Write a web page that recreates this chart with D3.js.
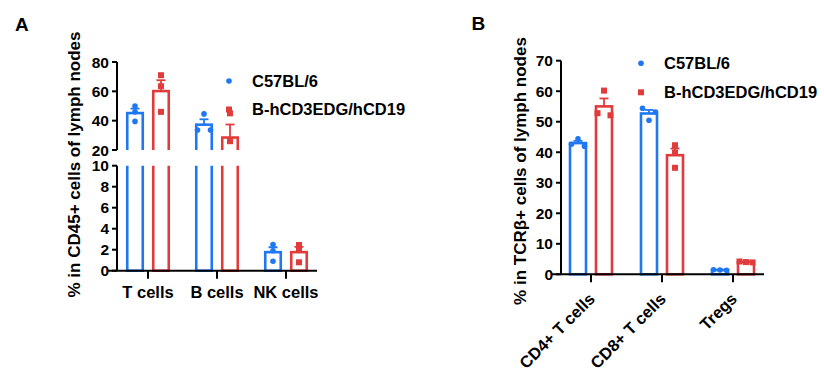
<!DOCTYPE html>
<html><head><meta charset="utf-8">
<script src="https://cdn.jsdelivr.net/npm/d3@7"></script>
<style>
body{margin:0;background:#fff;}
text{font-family:"Liberation Sans",Arial,sans-serif;font-weight:bold;fill:#000;}
</style></head>
<body><svg id="c" width="824" height="387"></svg>
<script>
// ---------- data ----------
const groups = ["C57BL/6", "B-hCD3EDG/hCD19"];
const catsA = ["T cells", "B cells", "NK cells"];
const c57A = [[50, 46, 39.5], [44.6, 33.6, 33.6], [2.5, 1.9, 0.9]];
const hcdA = [[71, 63.5, 46], [45, 26, 14.5], [2.45, 2.05, 0.8]];
const ticksATop = [20, 40, 60, 80];
const ticksABot = [0, 2, 4, 6, 8, 10];
const catsB = ["CD4+ T cells", "CD8+ T cells", "Tregs"];
const c57B = [[44.4, 42.0, 42.6], [54.4, 53.2, 50.5], [1.3, 1.5, 1.4]];
const hcdB = [[60.2, 52.1, 52.8], [42.3, 39.9, 34.9], [3.9, 4.2, 4.0]];
const ticksB = [0, 10, 20, 30, 40, 50, 60, 70];
const titleA = "% in CD45+ cells of lymph nodes";
const titleB = "% in TCRβ+ cells of lymph nodes";

const colors = ["#1f78f2", "#e23b3b"];
const svg = d3.select("#c");

const mean = a => d3.mean(a);
const sem = a => d3.deviation(a) / Math.sqrt(a.length);

function jitter(ys) {
  // spread points whose pixel positions are close
  const idx = ys.map((y, i) => i).sort((a, b) => ys[a] - ys[b]);
  const off = ys.map(() => 0);
  let cl = [idx[0]];
  const flush = () => {
    const n = cl.length;
    if (n > 1) cl.forEach((k, i) => off[k] = (i - (n - 1) / 2) * 13 / (n - 1));
  };
  for (let i = 1; i < idx.length; i++) {
    if (ys[idx[i]] - ys[idx[i - 1]] < 4) cl.push(idx[i]);
    else { flush(); cl = [idx[i]]; }
  }
  flush();
  return off;
}

function marker(g, gi, x, y) {
  if (gi === 0) g.append("circle").attr("cx", x).attr("cy", y).attr("r", 2.8).attr("fill", colors[0]);
  else g.append("rect").attr("x", x - 3).attr("y", y - 3).attr("width", 6).attr("height", 6).attr("fill", colors[1]);
}

function legend(x, y1, y2) {
  [y1, y2].forEach((y, gi) => {
    marker(svg, gi, x, y);
    svg.append("text").attr("x", x + 23).attr("y", y).attr("dy", "0.36em").attr("font-size", 16.5).text(groups[gi]);
  });
}

function yAxis(scale, ticks, x, y0, y1) {
  svg.append("line").attr("x1", x).attr("x2", x).attr("y1", y0).attr("y2", y1).attr("stroke", "#000").attr("stroke-width", 2);
  ticks.forEach(t => {
    svg.append("line").attr("x1", x - 5).attr("x2", x).attr("y1", scale(t)).attr("y2", scale(t)).attr("stroke", "#000").attr("stroke-width", 2);
    svg.append("text").attr("x", x - 8).attr("y", scale(t)).attr("dy", "0.36em").attr("text-anchor", "end").attr("font-size", 15.5).text(t);
  });
}

// ---------- Panel A ----------
svg.append("text").attr("x", 15).attr("y", 31).attr("font-size", 19).text("A");
const xA = d3.scaleBand().domain(catsA).range([113.5, 320.5]);
const sub = d3.scaleBand().domain(groups).range([-26, 26]);
const yTop = d3.scaleLinear().domain([20, 80]).range([150, 62]);
const yBot = d3.scaleLinear().domain([0, 10]).range([270.7, 165.7]);
const axA = 117;

svg.append("defs").html(
  `<clipPath id="cTop"><rect x="0" y="0" width="420" height="${yTop(20)}"/></clipPath>
   <clipPath id="cBot"><rect x="0" y="${yBot(10)}" width="420" height="200"/></clipPath>`);

const gTop = svg.append("g").attr("clip-path", "url(#cTop)");
const gBot = svg.append("g").attr("clip-path", "url(#cBot)");
const bwA = 15.5;
[c57A, hcdA].forEach((data, gi) => {
  data.forEach((vals, ci) => {
    const cx = xA(catsA[ci]) + xA.bandwidth() / 2 + sub(groups[gi]) + sub.bandwidth() / 2;
    const m = mean(vals), s = sem(vals);
    const col = colors[gi];
    if (m > 20) {
      gTop.append("rect").attr("x", cx - bwA / 2).attr("y", yTop(m)).attr("width", bwA)
        .attr("height", yTop(20) + 10 - yTop(m)).attr("fill", "#fff").attr("stroke", col).attr("stroke-width", 2.6);
    }
    const topB = m > 10 ? yBot(10) - 10 : yBot(m);
    gBot.append("rect").attr("x", cx - bwA / 2).attr("y", topB).attr("width", bwA)
      .attr("height", yBot(0) - topB).attr("fill", "#fff").attr("stroke", col).attr("stroke-width", 2.6);
    const ys = m > 20 ? yTop : yBot;
    const eb = m > 20 ? gTop : gBot;
    eb.append("line").attr("x1", cx).attr("x2", cx).attr("y1", ys(m)).attr("y2", ys(m + s)).attr("stroke", col).attr("stroke-width", 1.8);
    eb.append("line").attr("x1", cx - 4.5).attr("x2", cx + 4.5).attr("y1", ys(m + s)).attr("y2", ys(m + s)).attr("stroke", col).attr("stroke-width", 1.8);
    const py = vals.map(v => v >= 20 ? yTop(v) : (v <= 10 ? yBot(v) : null));
    const off = jitter(py.map(p => p === null ? -999 : p));
    vals.forEach((v, i) => {
      if (py[i] === null) return;
      marker(svg, gi, cx + off[i], py[i]);
    });
  });
});
yAxis(yTop, ticksATop, axA, yTop(20), yTop(80));
yAxis(yBot, ticksABot, axA, yBot(0), yBot(10));
svg.append("line").attr("x1", 108).attr("x2", 317).attr("y1", yBot(0)).attr("y2", yBot(0)).attr("stroke", "#000").attr("stroke-width", 2);
catsA.forEach(c => {
  const x = xA(c) + xA.bandwidth() / 2;
  svg.append("line").attr("x1", x).attr("x2", x).attr("y1", yBot(0)).attr("y2", yBot(0) + 8).attr("stroke", "#000").attr("stroke-width", 2);
  svg.append("text").attr("x", x).attr("y", 297.5).attr("text-anchor", "middle").attr("font-size", 16.5).text(c);
});
svg.append("text").attr("transform", "translate(74,164.5) rotate(-90)").attr("dy", "0.36em")
  .attr("text-anchor", "middle").attr("font-size", 17).text(titleA);
legend(229, 81, 109.5);

// ---------- Panel B ----------
svg.append("text").attr("x", 471.5).attr("y", 30).attr("font-size", 19).text("B");
const xB = d3.scaleBand().domain(catsB).range([555.5, 768.5]);
const yB = d3.scaleLinear().domain([0, 70]).range([274.3, 60.7]);
const axB = 561;
const bwB = 16;
[c57B, hcdB].forEach((data, gi) => {
  data.forEach((vals, ci) => {
    const cx = xB(catsB[ci]) + xB.bandwidth() / 2 + sub(groups[gi]) + sub.bandwidth() / 2;
    const m = mean(vals), s = sem(vals);
    const col = colors[gi];
    svg.append("rect").attr("x", cx - bwB / 2).attr("y", yB(m)).attr("width", bwB)
      .attr("height", yB(0) - yB(m)).attr("fill", "#fff").attr("stroke", col).attr("stroke-width", 2.6);
    svg.append("line").attr("x1", cx).attr("x2", cx).attr("y1", yB(m)).attr("y2", yB(m + s)).attr("stroke", col).attr("stroke-width", 1.8);
    svg.append("line").attr("x1", cx - 4.5).attr("x2", cx + 4.5).attr("y1", yB(m + s)).attr("y2", yB(m + s)).attr("stroke", col).attr("stroke-width", 1.8);
    const py = vals.map(v => yB(v));
    const off = jitter(py);
    vals.forEach((v, i) => marker(svg, gi, cx + off[i], py[i]));
  });
});
yAxis(yB, ticksB, axB, yB(0), yB(70));
svg.append("line").attr("x1", 552).attr("x2", 764).attr("y1", yB(0)).attr("y2", yB(0)).attr("stroke", "#000").attr("stroke-width", 2);
catsB.forEach(c => {
  const x = xB(c) + xB.bandwidth() / 2;
  svg.append("line").attr("x1", x).attr("x2", x).attr("y1", yB(0)).attr("y2", yB(0) + 8).attr("stroke", "#000").attr("stroke-width", 2);
  svg.append("text").attr("transform", `translate(${x + 5},300) rotate(-45)`).attr("text-anchor", "end")
    .attr("font-size", 16.5).text(c);
});
svg.append("text").attr("transform", "translate(520,171) rotate(-90)").attr("dy", "0.36em")
  .attr("text-anchor", "middle").attr("font-size", 17).text(titleB);
legend(641, 63.3, 92.3);
</script></body></html>
